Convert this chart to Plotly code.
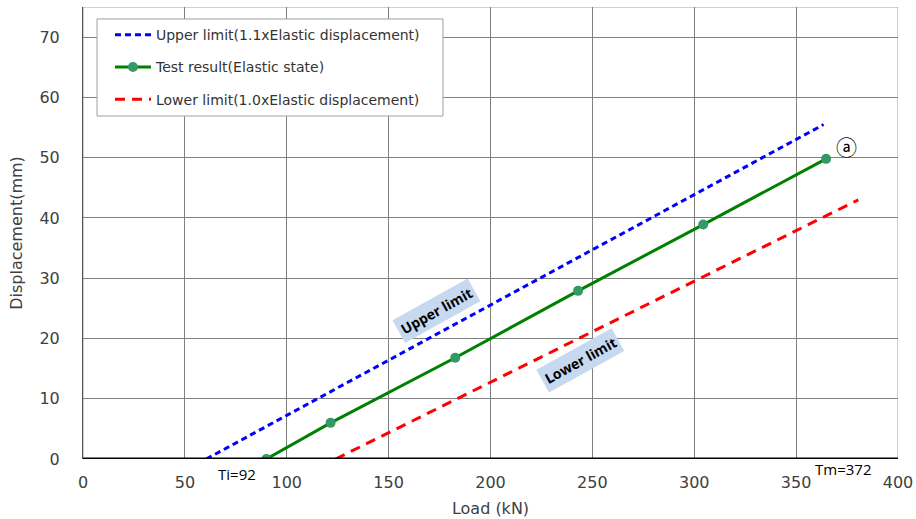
import plotly.graph_objects as go

# Data
test_load = [90, 121.5, 182.7, 243, 304.4, 364.7]
test_disp = [0, 6.0, 16.8, 27.9, 38.9, 49.8]
upper_load = [60.5, 363.5]
upper_disp = [0, 55.5]
lower_load = [124, 380.5]
lower_disp = [0, 43]
x_ticks = [0, 50, 100, 150, 200, 250, 300, 350, 400]
y_ticks = [0, 10, 20, 30, 40, 50, 60, 70]

FONT = "DejaVu Sans"

fig = go.Figure()
fig.add_trace(go.Scatter(x=upper_load, y=upper_disp, mode="lines",
                         line=dict(color="#0000ff", width=3, dash="6px,4px"),
                         name="Upper limit(1.1xElastic displacement)", legendgroup="a"))
fig.add_trace(go.Scatter(x=test_load, y=test_disp, mode="lines+markers",
                         line=dict(color="#008000", width=3),
                         marker=dict(color="#339966", size=10),
                         name="Test result(Elastic state)", legendgroup="b"))
fig.add_trace(go.Scatter(x=lower_load, y=lower_disp, mode="lines",
                         line=dict(color="#ff0000", width=3, dash="10px,7px"),
                         name="Lower limit(1.0xElastic displacement)", legendgroup="c"))

# border and thick baseline
fig.add_shape(type="rect", xref="x", yref="y", x0=0, x1=400, y0=0, y1=75,
              line=dict(color="#a0a0a0", width=1), layer="below")
fig.add_shape(type="line", xref="x", yref="y", x0=0, x1=400, y0=0, y1=0,
              line=dict(color="black", width=3), layer="above")
# legend frame
fig.add_shape(type="rect", xref="paper", yref="paper", x0=0.0172, x1=0.4417,
              y0=0.7588, y1=0.9735, fillcolor="white",
              line=dict(color="#a0a0a0", width=1), layer="above")

ann_font = dict(family="Open Sans", size=14, color="black")
fig.add_annotation(x=173.7, y=24.6, text="<b>Upper limit</b>", showarrow=False,
                   textangle=-29, bgcolor="#c6d9f0", font=ann_font, borderpad=3)
fig.add_annotation(x=244, y=16.3, text="<b>Lower limit</b>", showarrow=False,
                   textangle=-29, bgcolor="#c6d9f0", font=ann_font, borderpad=3)
fig.add_annotation(x=374.5, y=52, text="ⓐ", showarrow=False,
                   font=dict(family="Noto Sans CJK KR", size=21, color="black"))
fig.add_annotation(x=75.7, xref="x", y=-0.06, yref="paper", text="Ti=92", showarrow=False,
                   font=dict(family="Open Sans", size=15, color="black"))
fig.add_annotation(x=373, xref="x", y=-0.048, yref="paper", text="Tm=372", showarrow=False,
                   font=dict(family="Open Sans", size=15, color="black"))

fig.update_layout(
    width=916, height=519,
    margin=dict(l=83, r=18, t=7, b=60),
    paper_bgcolor="white", plot_bgcolor="white",
    font=dict(family=FONT, size=16, color="#404040"),
    showlegend=True,
    legend=dict(x=0.0331, y=0.973, xanchor="left", yanchor="top",
                bgcolor="rgba(0,0,0,0)", borderwidth=0,
                font=dict(family=FONT, size=14, color="#333333"),
                traceorder="grouped", tracegroupgap=11, itemwidth=36),
    xaxis=dict(range=[0, 400], tickvals=x_ticks, showgrid=True, automargin=False,
               gridcolor="#808080", gridwidth=1, zeroline=False, showline=False,
               ticks="outside", ticklen=9, tickcolor="rgba(0,0,0,0)",
               title=dict(text="Load (kN)", standoff=11,
                          font=dict(size=16, color="#404040"))),
    yaxis=dict(range=[0, 75], tickvals=y_ticks, showgrid=True, automargin=False,
               gridcolor="#808080", gridwidth=1, zeroline=False,
               showline=True, linecolor="#555555", linewidth=1,
               ticks="outside", ticklen=19, tickcolor="rgba(0,0,0,0)",
               title=dict(text="Displacement(mm)", standoff=12,
                          font=dict(size=16, color="#404040"))),
)

fig.write_html("out.html", config={"displayModeBar": False},
               post_script="document.body.style.margin='0';")
